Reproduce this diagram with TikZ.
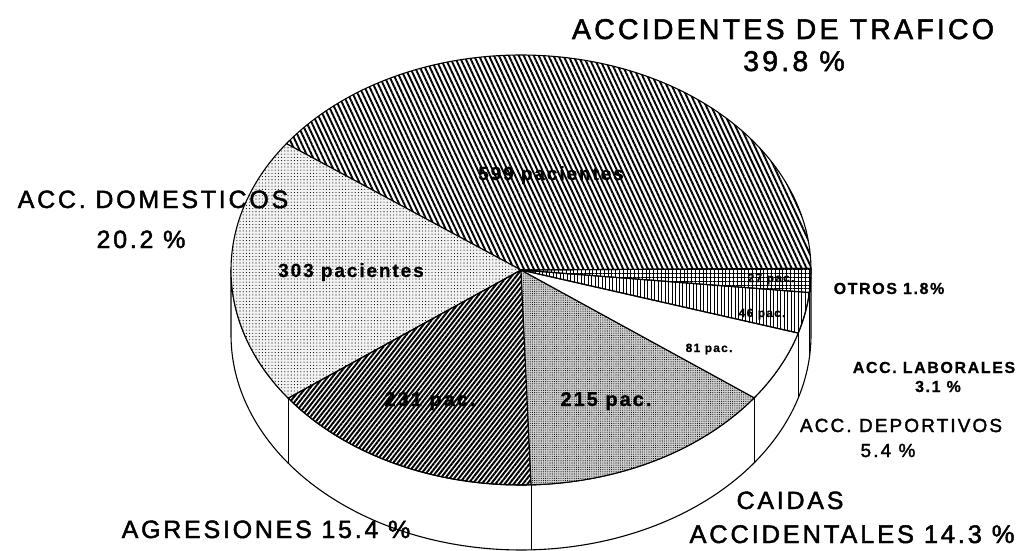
\documentclass[tikz,border=0pt]{standalone}
\usepackage{fontspec}
\setmainfont{Liberation Sans}
\newfontfamily\plf[LetterSpace=11, FakeBold=1.8]{Liberation Sans}
\newfontfamily\plb[LetterSpace=10, FakeBold=0.8]{Liberation Sans Bold}
\usetikzlibrary{patterns.meta}
\tikzset{
  lab/.style={inner sep=0pt, anchor=base, font=\plf\fontsize{#1}{#1}\selectfont},
  blab/.style={inner sep=0pt, anchor=base, font=\plb\fontsize{#1}{#1}\selectfont},
  edge/.style={line width=1.1pt, line join=round},
  trafico/.style={pattern={Lines[angle=-65,distance=4.5pt,line width=1.9pt]}},
  domestico/.style={preaction={fill=black!5}, pattern={Dots[distance=3.2pt,radius=0.55pt]}},
  agresion/.style={pattern={Lines[angle=52,distance=3.6pt,line width=2pt]}},
  caida/.style={preaction={fill=black!18}, pattern={Dots[distance=2.2pt,radius=0.55pt]}},
  laboral/.style={pattern={Lines[angle=90,distance=3.5pt,line width=1pt]}},
  otros/.style={pattern={Hatch[angle=0,distance=3.8pt,line width=0.9pt]}},
}
\begin{document}
\begin{tikzpicture}[x=1pt,y=-1pt]
\useasboundingbox (0,0) rectangle (1025,551);

% side wall
\draw[edge, fill=white]
  plot[domain=180:360.44,samples=150] ({521+290*cos(\x)},{270-215*sin(\x)})
  -- plot[domain=360.44:180,samples=150] ({521+290*cos(\x)},{335-215*sin(\x)}) -- cycle;
\foreach \a in {216.6,272,323.53,342.94,353.97}
  \draw[edge] ({521+290*cos(\a)},{270-215*sin(\a)}) -- ++(0,65);

% top slices
\draw[edge, trafico] (521,270) -- plot[domain=360.44:504,samples=150] ({521+290*cos(\x)},{270-215*sin(\x)}) -- cycle;
\draw[edge, domestico] (521,270) -- plot[domain=144:216.6,samples=80] ({521+290*cos(\x)},{270-215*sin(\x)}) -- cycle;
\draw[edge, agresion] (521,270) -- plot[domain=216.6:272,samples=80] ({521+290*cos(\x)},{270-215*sin(\x)}) -- cycle;
\draw[edge, caida] (521,270) -- plot[domain=272:323.53,samples=80] ({521+290*cos(\x)},{270-215*sin(\x)}) -- cycle;
\draw[edge, fill=white] (521,270) -- plot[domain=323.53:342.94,samples=40] ({521+290*cos(\x)},{270-215*sin(\x)}) -- cycle;
\draw[edge, laboral] (521,270) -- plot[domain=342.94:353.97,samples=30] ({521+290*cos(\x)},{270-215*sin(\x)}) -- cycle;
\draw[edge, otros] (521,270) -- plot[domain=353.97:360.44,samples=20] ({521+290*cos(\x)},{270-215*sin(\x)}) -- cycle;

% inner labels
\node[blab=19] (n599) at (551,180) {599 pacientes};
\node[blab=19] (n303) at (351,277) {303 pacientes};
\node[blab=20] (n231) at (430,406) {231 pac.};
\node[blab=20] (n215) at (606,406) {215 pac.};
\node[blab=12] (n81) at (709,352) {81 pac.};
\node[blab=12] (n46) at (762,317) {46 pac.};
\node[blab=12] (n27) at (771,282) {27 pac.};

% outer labels
\node[lab=28.6] (lTraf) at (783,39) {ACCIDENTES DE TRAFICO};
\node[lab=28.6] (pTraf) at (794,71) {39.8 \%};
\node[lab=25] (lDom) at (153,208) {ACC. DOMESTICOS};
\node[lab=25] (pDom) at (141,248) {20.2 \%};
\node[blab=16] (lOtr) at (889,294) {OTROS 1.8\%};
\node[blab=16] (lLab) at (934,373) {ACC. LABORALES};
\node[blab=16] (pLab) at (938,392) {3.1 \%};
\node[lab=19] (lDep) at (901,432) {ACC. DEPORTIVOS};
\node[lab=19] (pDep) at (888,457) {5.4 \%};
\node[lab=25] (lCai) at (790,509) {CAIDAS};
\node[lab=25.5] (pCai) at (852,543) {ACCIDENTALES 14.3 \%};
\node[lab=25] (lAgr) at (266,538) {AGRESIONES 15.4 \%};
\end{tikzpicture}
\end{document}
